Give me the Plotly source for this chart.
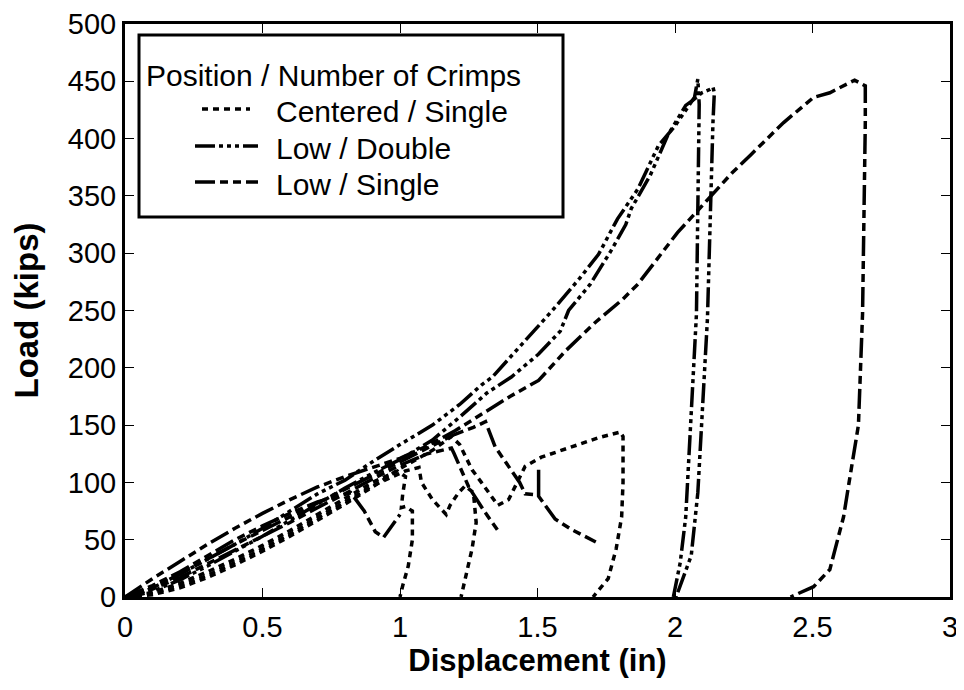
import plotly.graph_objects as go

# ---- Data ----
# Centered / Single
c1_x = [0, 0.1, 0.2, 0.3, 0.4, 0.5, 0.6, 0.7, 0.8, 0.9, 0.99, 1.02, 1.01, 1.005, 1.02, 1.045, 1.045, 1.03, 1.01, 1.0]
c1_y = [0, 4, 12, 22, 33, 45, 58, 72, 86, 100, 110, 105, 90, 78, 79, 75, 50, 27, 10, 0]
c2_x = [0, 0.1, 0.2, 0.3, 0.4, 0.5, 0.6, 0.7, 0.8, 0.9, 1.019, 1.069, 1.078, 1.118, 1.168, 1.182, 1.213, 1.237, 1.267, 1.277, 1.262, 1.243, 1.227, 1.222]
c2_y = [0, 3, 10, 19, 30, 42, 55, 69, 83, 97, 110, 113, 100, 85, 72, 80, 91, 97, 91, 65, 42, 21, 5, 0]
c3_x = [0, 0.1, 0.2, 0.3, 0.4, 0.5, 0.6, 0.7, 0.8, 0.9, 1.0, 1.118, 1.187, 1.217, 1.262, 1.296, 1.356, 1.395, 1.435, 1.455, 1.514, 1.623, 1.722, 1.801, 1.811, 1.811, 1.806, 1.786, 1.757, 1.712, 1.702]
c3_y = [0, 2, 8, 17, 28, 40, 53, 67, 81, 96, 112, 128, 140, 133, 111, 100, 80, 85, 105, 114, 122, 131, 139, 144, 140, 100, 70, 42, 16, 3, 0]

# Low / Double
d1_x = [0, 0.05, 0.1, 0.2, 0.3, 0.4, 0.5, 0.6, 0.7, 0.8, 0.9, 1.0, 1.118, 1.217, 1.296, 1.336, 1.445, 1.554, 1.653, 1.722, 1.791, 1.865, 1.94, 2.0, 2.071, 2.083, 2.088, 2.083, 2.078, 2.071, 2.064, 2.039, 2.019, 1.999, 1.994]
d1_y = [0, 3, 8, 20, 33, 46, 60, 75, 90, 102, 118, 133, 150, 168, 185, 192, 221, 250, 278, 299, 330, 356, 394, 411, 436, 452, 430, 300, 247, 215, 186, 70, 30, 3, 0]
d2_x = [0, 0.05, 0.1, 0.2, 0.3, 0.4, 0.5, 0.6, 0.7, 0.8, 0.9, 1.0, 1.118, 1.217, 1.316, 1.405, 1.504, 1.583, 1.613, 1.692, 1.767, 1.821, 1.841, 1.91, 1.974, 2.039, 2.068, 2.098, 2.128, 2.138, 2.143, 2.138, 2.118, 2.098, 2.083, 2.059, 2.019, 2.004]
d2_y = [0, 2, 5, 15, 27, 40, 53, 67, 81, 95, 108, 120, 137, 157, 178, 192, 212, 232, 250, 273, 302, 325, 339, 368, 403, 429, 434, 440, 443, 445, 440, 414, 243, 150, 91, 36, 10, 0]

# Low / Single
s1_x = [0, 0.05, 0.1, 0.2, 0.3, 0.4, 0.5, 0.6, 0.7, 0.8, 0.9, 1.0, 1.1, 1.2, 1.3, 1.4, 1.504, 1.603, 1.712, 1.811, 1.865, 2.009, 2.078, 2.207, 2.276, 2.395, 2.504, 2.563, 2.653, 2.692, 2.692, 2.687, 2.682, 2.667, 2.648, 2.633, 2.613, 2.59, 2.563, 2.504, 2.42]
s1_y = [0, 8, 16, 31, 46, 60, 73, 85, 96, 105, 113, 121, 132, 145, 160, 175, 189, 215, 240, 260, 273, 318, 336, 370, 386, 414, 436, 440, 451, 446, 414, 299, 247, 150, 120, 100, 70, 48, 24, 9, 0]
s2_x = [0, 0.1, 0.2, 0.3, 0.4, 0.5, 0.6, 0.7, 0.821, 0.87, 0.91, 0.94, 0.97, 1.0]
s2_y = [0, 10, 22, 36, 50, 62, 73, 83, 91, 75, 57, 52, 62, 72]
s3_x = [0, 0.1, 0.2, 0.3, 0.4, 0.5, 0.6, 0.7, 0.8, 0.9, 1.0, 1.1, 1.2, 1.267, 1.311, 1.346, 1.395, 1.435, 1.455, 1.504, 1.504, 1.504, 1.564, 1.623, 1.712]
s3_y = [0, 9, 20, 33, 46, 58, 70, 82, 94, 106, 118, 130, 142, 148, 153, 131, 114, 100, 90, 89, 111, 88, 68, 59, 48]
s4_x = [0, 0.1, 0.2, 0.3, 0.4, 0.5, 0.6, 0.7, 0.8, 0.9, 1.0, 1.1, 1.187, 1.197, 1.25, 1.306, 1.359]
s4_y = [0, 7, 17, 29, 41, 53, 65, 78, 90, 103, 115, 125, 130, 125, 96, 75, 57]

x_ticks = [0, 0.5, 1, 1.5, 2, 2.5, 3]
y_ticks = [0, 50, 100, 150, 200, 250, 300, 350, 400, 450, 500]

legend_title = "Position / Number of Crimps"
DOT = "6px,5px"
DASH_DOT_DOT = "20px,4px,4px,4px,4px,4px,4px,4px"
DASH_DASH = "20px,5px,8px,5px,8px,5px"

series = [
    ("Centered / Single", DOT, [(c1_x, c1_y), (c2_x, c2_y), (c3_x, c3_y)]),
    ("Low / Double", DASH_DOT_DOT, [(d1_x, d1_y), (d2_x, d2_y)]),
    ("Low / Single", DASH_DASH, [(s1_x, s1_y), (s2_x, s2_y), (s3_x, s3_y), (s4_x, s4_y)]),
]

fig = go.Figure()
for name, dash, curves in series:
    for i, (xs, ys) in enumerate(curves):
        fig.add_trace(go.Scatter(
            x=xs, y=ys, mode="lines", name=name, legendgroup=name,
            showlegend=False,
            line=dict(color="black", width=3.5, dash=dash),
        ))

FONT = "Arial, Liberation Sans, sans-serif"

# ---- legend drawn as a boxed key (paper coordinates) ----
# plot area in page pixels (page has an 8px body margin)
PX_L, PX_R, PX_T, PX_B = 125, 950, 24, 597

def px_x(p):
    return (p - PX_L) / float(PX_R - PX_L)

def px_y(p):
    return (PX_B - p) / float(PX_B - PX_T)

shapes = [dict(type="rect", xref="paper", yref="paper",
               x0=px_x(139), x1=px_x(563), y0=px_y(217), y1=px_y(35),
               line=dict(color="black", width=3), fillcolor="white", layer="above")]
annotations = [dict(text=legend_title, xref="paper", yref="paper",
                    x=px_x(144), y=px_y(75), xanchor="left", yanchor="middle",
                    showarrow=False, font=dict(family=FONT, size=30, color="black"))]
sample_rows = [(109, 202, 250), (146, 195, 258), (182, 195, 258)]
for (name, dash, _), (yy, xa, xb) in zip(series, sample_rows):
    shapes.append(dict(type="line", xref="paper", yref="paper",
                       x0=px_x(xa), x1=px_x(xb), y0=px_y(yy), y1=px_y(yy),
                       line=dict(color="black", width=3.5, dash=dash), layer="above"))
    annotations.append(dict(text=name, xref="paper", yref="paper",
                            x=px_x(274), y=px_y(yy + 2), xanchor="left", yanchor="middle",
                            showarrow=False, font=dict(family=FONT, size=30, color="black")))

FIG_W, FIG_H = 956, 672
fig.update_layout(
    width=FIG_W, height=FIG_H,
    paper_bgcolor="white", plot_bgcolor="white",
    margin=dict(l=PX_L - 8, r=FIG_W + 8 - PX_R, t=PX_T - 8, b=FIG_H + 8 - PX_B,
                autoexpand=False),
    font=dict(family=FONT, size=29, color="black"),
    showlegend=False,
    shapes=shapes,
    annotations=annotations,
    xaxis=dict(
        range=[0, 3], tickvals=x_ticks, ticktext=[str(v) for v in x_ticks],
        ticks="inside", ticklen=9, tickwidth=1.2, tickcolor="black",
        showline=True, linewidth=3, linecolor="black", mirror="allticks",
        showgrid=False, zeroline=False, ticklabeloverflow="allow",
        ticklabelstandoff=2, automargin=False,
        title=dict(text="<b>Displacement (in)</b>", standoff=6,
                   font=dict(size=31)),
        tickfont=dict(size=29),
    ),
    yaxis=dict(
        range=[0, 500], tickvals=y_ticks, ticktext=[str(v) for v in y_ticks],
        ticks="inside", ticklen=9, tickwidth=1.2, tickcolor="black",
        showline=True, linewidth=3, linecolor="black", mirror="allticks",
        showgrid=False, zeroline=False, ticklabeloverflow="allow",
        automargin=False,
        title=dict(text="<b>Load (kips)</b>", standoff=24,
                   font=dict(size=33)),
        tickfont=dict(size=29),
    ),
)

fig.write_html("out.html")
